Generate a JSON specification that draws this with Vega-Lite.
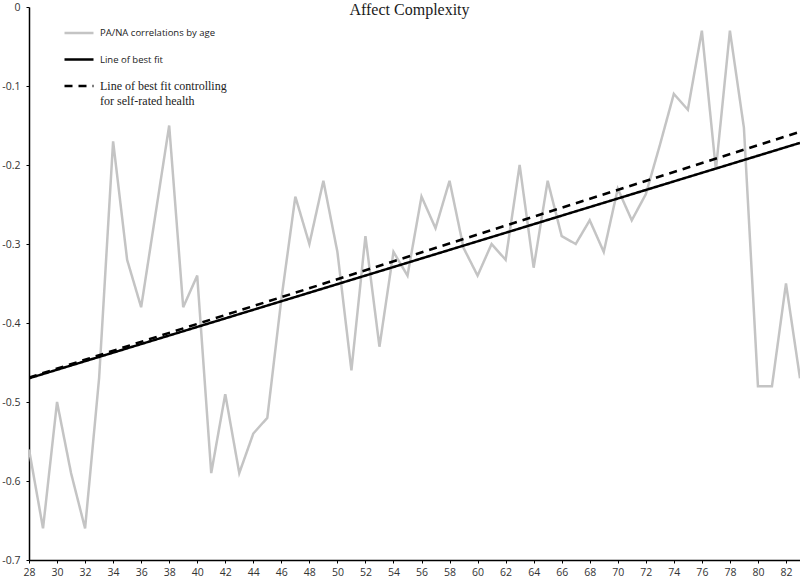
{
  "$schema": "https://vega.github.io/schema/vega-lite/v6.json",
  "width": 771,
  "height": 553,
  "autosize": {"type": "none"},
  "padding": {"left": 29, "top": 7, "right": 0, "bottom": 19},
  "background": "white",
  "title": {
    "text": "Affect Complexity",
    "font": "Liberation Serif",
    "fontSize": 16,
    "fontWeight": "normal",
    "color": "#1a1a1a",
    "anchor": "middle",
    "frame": "group",
    "baseline": "alphabetic",
    "offset": 0,
    "dy": 29,
    "dx": -5
  },
  "data": {
    "values": [
      {"age": 28, "value": -0.56, "series": "PA/NA correlations by age"},
      {"age": 29, "value": -0.66, "series": "PA/NA correlations by age"},
      {"age": 30, "value": -0.50, "series": "PA/NA correlations by age"},
      {"age": 31, "value": -0.59, "series": "PA/NA correlations by age"},
      {"age": 32, "value": -0.66, "series": "PA/NA correlations by age"},
      {"age": 33, "value": -0.47, "series": "PA/NA correlations by age"},
      {"age": 34, "value": -0.17, "series": "PA/NA correlations by age"},
      {"age": 35, "value": -0.32, "series": "PA/NA correlations by age"},
      {"age": 36, "value": -0.38, "series": "PA/NA correlations by age"},
      {"age": 37, "value": -0.265, "series": "PA/NA correlations by age"},
      {"age": 38, "value": -0.15, "series": "PA/NA correlations by age"},
      {"age": 39, "value": -0.38, "series": "PA/NA correlations by age"},
      {"age": 40, "value": -0.34, "series": "PA/NA correlations by age"},
      {"age": 41, "value": -0.59, "series": "PA/NA correlations by age"},
      {"age": 42, "value": -0.49, "series": "PA/NA correlations by age"},
      {"age": 43, "value": -0.59, "series": "PA/NA correlations by age"},
      {"age": 44, "value": -0.54, "series": "PA/NA correlations by age"},
      {"age": 45, "value": -0.52, "series": "PA/NA correlations by age"},
      {"age": 46, "value": -0.37, "series": "PA/NA correlations by age"},
      {"age": 47, "value": -0.24, "series": "PA/NA correlations by age"},
      {"age": 48, "value": -0.30, "series": "PA/NA correlations by age"},
      {"age": 49, "value": -0.22, "series": "PA/NA correlations by age"},
      {"age": 50, "value": -0.31, "series": "PA/NA correlations by age"},
      {"age": 51, "value": -0.46, "series": "PA/NA correlations by age"},
      {"age": 52, "value": -0.29, "series": "PA/NA correlations by age"},
      {"age": 53, "value": -0.43, "series": "PA/NA correlations by age"},
      {"age": 54, "value": -0.31, "series": "PA/NA correlations by age"},
      {"age": 55, "value": -0.34, "series": "PA/NA correlations by age"},
      {"age": 56, "value": -0.24, "series": "PA/NA correlations by age"},
      {"age": 57, "value": -0.28, "series": "PA/NA correlations by age"},
      {"age": 58, "value": -0.22, "series": "PA/NA correlations by age"},
      {"age": 59, "value": -0.305, "series": "PA/NA correlations by age"},
      {"age": 60, "value": -0.34, "series": "PA/NA correlations by age"},
      {"age": 61, "value": -0.30, "series": "PA/NA correlations by age"},
      {"age": 62, "value": -0.32, "series": "PA/NA correlations by age"},
      {"age": 63, "value": -0.20, "series": "PA/NA correlations by age"},
      {"age": 64, "value": -0.33, "series": "PA/NA correlations by age"},
      {"age": 65, "value": -0.22, "series": "PA/NA correlations by age"},
      {"age": 66, "value": -0.29, "series": "PA/NA correlations by age"},
      {"age": 67, "value": -0.30, "series": "PA/NA correlations by age"},
      {"age": 68, "value": -0.27, "series": "PA/NA correlations by age"},
      {"age": 69, "value": -0.31, "series": "PA/NA correlations by age"},
      {"age": 70, "value": -0.23, "series": "PA/NA correlations by age"},
      {"age": 71, "value": -0.27, "series": "PA/NA correlations by age"},
      {"age": 72, "value": -0.237, "series": "PA/NA correlations by age"},
      {"age": 73, "value": -0.175, "series": "PA/NA correlations by age"},
      {"age": 74, "value": -0.11, "series": "PA/NA correlations by age"},
      {"age": 75, "value": -0.13, "series": "PA/NA correlations by age"},
      {"age": 76, "value": -0.03, "series": "PA/NA correlations by age"},
      {"age": 77, "value": -0.206, "series": "PA/NA correlations by age"},
      {"age": 78, "value": -0.03, "series": "PA/NA correlations by age"},
      {"age": 79, "value": -0.153, "series": "PA/NA correlations by age"},
      {"age": 80, "value": -0.48, "series": "PA/NA correlations by age"},
      {"age": 81, "value": -0.48, "series": "PA/NA correlations by age"},
      {"age": 82, "value": -0.35, "series": "PA/NA correlations by age"},
      {"age": 83, "value": -0.47, "series": "PA/NA correlations by age"},
      {"age": 28, "value": -0.47, "series": "Line of best fit"},
      {"age": 83, "value": -0.172, "series": "Line of best fit"},
      {"age": 28, "value": -0.469, "series": "Line of best fit controlling for self-rated health"},
      {"age": 83, "value": -0.158, "series": "Line of best fit controlling for self-rated health"}
    ]
  },
  "mark": {"type": "line", "strokeWidth": 2.5, "clip": true},
  "encoding": {
    "x": {
      "field": "age",
      "type": "quantitative",
      "scale": {"domain": [28, 83], "nice": false, "zero": false},
      "axis": {
        "title": null,
        "values": [28, 30, 32, 34, 36, 38, 40, 42, 44, 46, 48, 50, 52, 54, 56, 58, 60, 62, 64, 66, 68, 70, 72, 74, 76, 78, 80, 82],
        "grid": false,
        "domainColor": "#000000",
        "domainWidth": 1.5,
        "tickColor": "#000000",
        "tickSize": 3,
        "labelFont": "Open Sans",
        "labelFontSize": 10.5,
        "labelColor": "#333333",
        "labelPadding": 4,
        "labelFlush": false
      }
    },
    "y": {
      "field": "value",
      "type": "quantitative",
      "scale": {"domain": [-0.7, 0], "nice": false, "zero": false},
      "axis": {
        "title": null,
        "values": [-0.7, -0.6, -0.5, -0.4, -0.3, -0.2, -0.1, 0],
        "labelExpr": "datum.value == 0 ? '0' : '-' + format(-datum.value, '.1f')",
        "grid": false,
        "domainColor": "#000000",
        "domainWidth": 1.5,
        "tickColor": "#000000",
        "tickSize": 3,
        "labelFont": "Open Sans",
        "labelFontSize": 10.5,
        "labelColor": "#333333",
        "labelPadding": 6,
        "labelFlush": false
      }
    },
    "color": {
      "field": "series",
      "type": "nominal",
      "scale": {
        "domain": ["PA/NA correlations by age", "Line of best fit", "Line of best fit controlling for self-rated health"],
        "range": ["#c4c4c4", "#000000", "#000000"]
      },
      "legend": {
        "title": null,
        "orient": "none",
        "legendX": 34,
        "legendY": 10,
        "padding": 0,
        "symbolType": "stroke",
        "symbolSize": 841,
        "symbolStrokeWidth": 2.5,
        "rowPadding": 5.5,
        "labelOffset": 5,
        "labelFont": "Open Sans",
        "labelFontSize": 9.5,
        "labelColor": "#222222",
        "labelLimit": 400,
        "labelExpr": "datum.value == 'Line of best fit controlling for self-rated health' ? ['Line of best fit controlling', 'for self-rated health'] : datum.label",
        "encode": {
          "labels": {
            "update": {
              "font": {"signal": "datum.value == 'Line of best fit controlling for self-rated health' ? 'Liberation Serif' : 'Open Sans'"},
              "fontSize": {"signal": "datum.value == 'Line of best fit controlling for self-rated health' ? 12 : 9.5"},
              "lineHeight": {"value": 15}
            }
          }
        }
      }
    },
    "strokeDash": {
      "field": "series",
      "type": "nominal",
      "scale": {
        "domain": ["PA/NA correlations by age", "Line of best fit", "Line of best fit controlling for self-rated health"],
        "range": [[1, 0], [1, 0], [8, 6]]
      }
    }
  },
  "config": {
    "view": {"stroke": null}
  }
}
